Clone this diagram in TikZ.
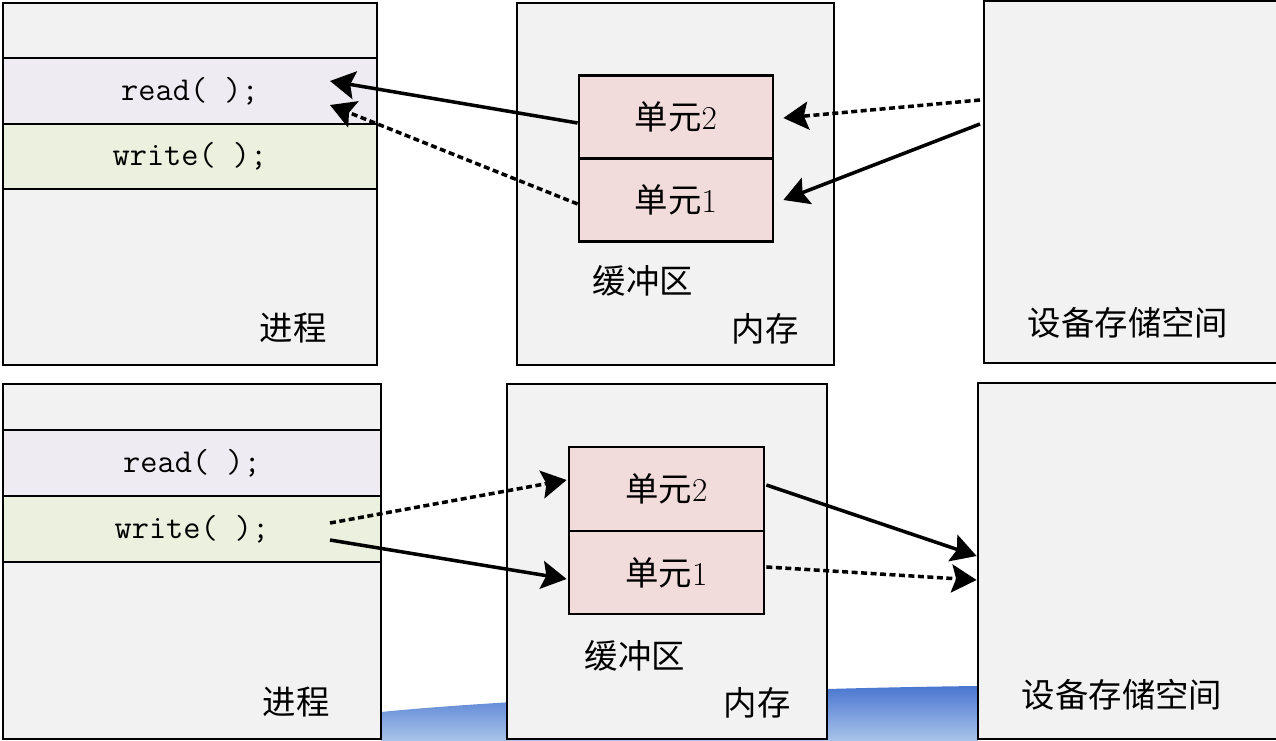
\documentclass[tikz,border=0pt]{standalone}
\usepackage{fontspec}
\newfontfamily\cjk{Noto Sans CJK SC}
\usetikzlibrary{arrows.meta, positioning, calc}

\definecolor{boxgray}{HTML}{F2F2F2}
\definecolor{readfill}{HTML}{EEECF2}
\definecolor{writefill}{HTML}{EBF1DE}
\definecolor{unitfill}{HTML}{F2DCDB}
\definecolor{wavetop}{HTML}{4A76D0}
\definecolor{wavebot}{HTML}{A9C4EA}

\begin{document}
\begin{tikzpicture}[x = 0.02cm, y = -0.02cm, line width = 1.6pt,
	box/.style = {draw, fill=boxgray, inner sep=0pt},
	row/.style = {draw, minimum width=7.48cm, minimum height=1.32cm, inner sep=0pt, font=\fontsize{19}{23}\ttfamily},
	unit/.style = {draw, fill=unitfill, minimum width=3.88cm, minimum height=1.66cm, inner sep=0pt, font=\fontsize{19}{23}\selectfont},
	lbl/.style = {font=\fontsize{19}{23}\selectfont\cjk, inner sep=0pt},
	link/.style = {-{Stealth[length=0.5cm, width=0.56cm, inset=0.09cm]}, line width=2pt},
	dotlink/.style = {link, dash pattern=on 3.4pt off 2pt}]

\clip (0,0) rectangle (1276,741);

% background wave
\shade[top color=wavetop, bottom color=wavebot] (381,741) -- (381,712) .. controls (520,698) and (800,688) .. (978,686) -- (978,741) -- cycle;

% reading
\node[box, minimum width=7.48cm, minimum height=7.24cm]		(p1) at (190,184)		{};
\node[row, fill=readfill]									(r1) at (190,91)		{read( );};
\node[row, fill=writefill, minimum height=1.3cm]			(w1) [below=-1.6pt of r1] {write( );};
\node[lbl]													(t1) at (293,328)		{进程};

\node[box, minimum width=6.34cm, minimum height=7.24cm]		(m1) at (675.5,184)		{};
\node[unit]													(u12) at (676,117)		{{\cjk 单元}2};
\node[unit]													(u11) [below=-1.6pt of u12] {{\cjk 单元}1};
\node[lbl]													(bl1) at (643,281)		{缓冲区};
\node[lbl]													(ml1) at (765,329)		{内存};

\node[box, minimum width=6.12cm, minimum height=7.24cm]		(d1) at (1137,182)		{};
\node[lbl]													(dl1) at (1128,323)		{设备存储空间};

\coordinate (r1a) at (330,81);
\coordinate (r1b) at (330,105);
\coordinate (d1a) at (980,100);
\coordinate (d1b) at (980,124);

\path	($(u12.west)+(0,6)$)	edge[link]		(r1a);
\path	($(u11.west)+(0,4)$)	edge[dotlink]	(r1b);
\path	(d1a)					edge[dotlink]	($(u12.east)+(9,1)$);
\path	(d1b)					edge[link]		($(u11.east)+(9,0)$);

% writing
\node[box, minimum width=7.56cm, minimum height=7.1cm]		(p2) at (192,561.5)		{};
\node[row, minimum width=7.56cm, fill=readfill]				(r2) at (192,463)		{read( );};
\node[row, minimum width=7.56cm, fill=writefill]			(w2) [below=-1.6pt of r2] {write( );};
\node[lbl]													(t2) at (296,702)		{进程};

\node[box, minimum width=6.4cm, minimum height=7.1cm]		(m2) at (667,561.5)		{};
\node[unit, minimum width=3.9cm, minimum height=1.68cm]		(u22) at (666.5,489)	{{\cjk 单元}2};
\node[unit, minimum width=3.9cm]							(u21) [below=-1.6pt of u22] {{\cjk 单元}1};
\node[lbl]													(bl2) at (635,656)		{缓冲区};
\node[lbl]													(ml2) at (757,703)		{内存};

\node[box, minimum width=6.24cm, minimum height=7.12cm]		(d2) at (1134,561)		{};
\node[lbl]													(dl2) at (1122,695)		{设备存储空间};

\coordinate (w2a) at (330,523);
\coordinate (w2b) at (330,540);

\path	(w2a)					edge[dotlink]	($(u22.west)+(-1,-9)$);
\path	(w2b)					edge[link]		($(u21.west)+(-1,6.5)$);
\path	($(u22.east)+(1,-4)$)	edge[link]		($(d2.west)+(0,-5)$);
\path	($(u21.east)+(1,-5.5)$)	edge[dotlink]	($(d2.west)+(0,19)$);

\end{tikzpicture}
\end{document}
